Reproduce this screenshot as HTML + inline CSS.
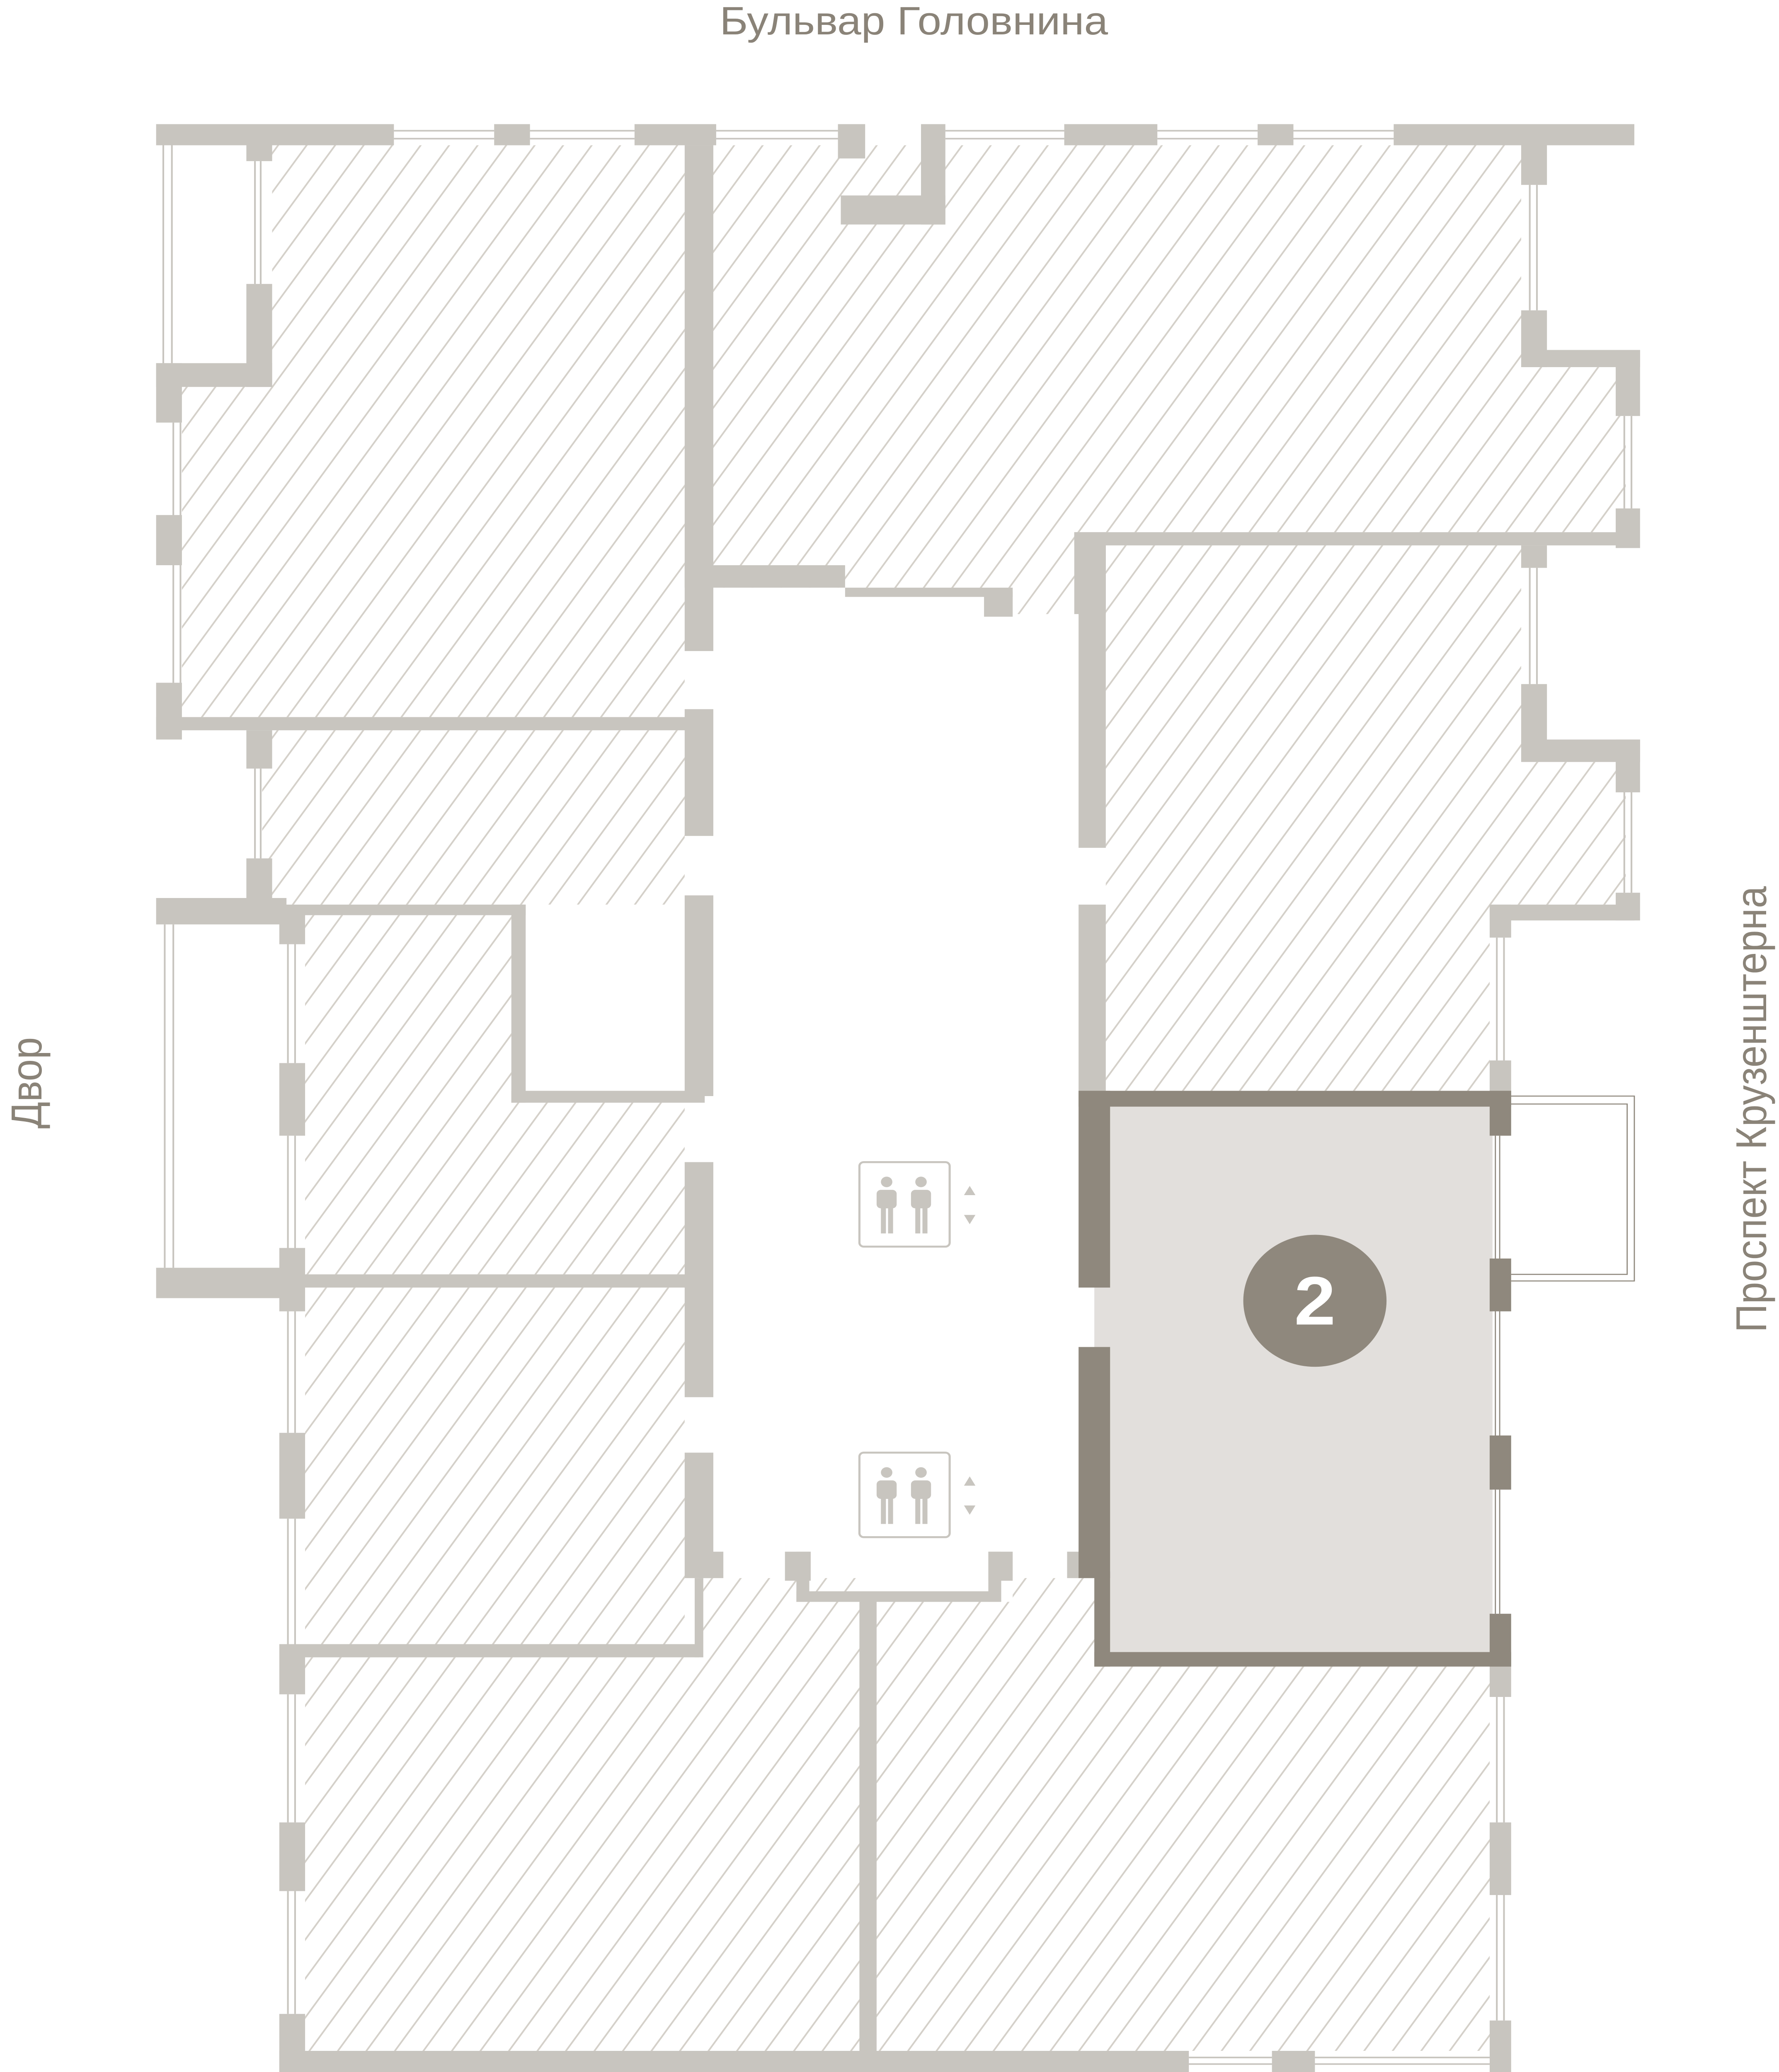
<!DOCTYPE html>
<html><head><meta charset="utf-8"><style>
html,body{margin:0;padding:0;background:#fff;overflow:hidden;}
svg{display:block;position:fixed;left:0;top:0;width:100vw;height:100vh;}
</style></head><body>
<svg xmlns="http://www.w3.org/2000/svg" viewBox="0 0 1242 1569" preserveAspectRatio="none">
<defs>
<pattern id="h" patternUnits="userSpaceOnUse" width="16.5" height="16.5" patternTransform="rotate(34)">
<line x1="8" y1="-5" x2="8" y2="25" stroke="#d4d0c9" stroke-width="1.2"/>
</pattern>
</defs>
<rect width="1242" height="1569" fill="#fff"/>
<g fill="url(#h)">
<polygon points="190,110 478,110 478,543 127,543 127,290 190,290"/>
<polygon points="183,553 478,553 478,685 183,685"/>
<polygon points="213,693 357,693 357,835 478,835 478,965 213,965"/>
<polygon points="213,975 478,975 478,1245 213,1245"/>
<polygon points="213,1255 488,1255 488,1195 600,1195 600,1553 213,1553"/>
<polygon points="612,1213 707,1213 707,1195 765,1195 765,1262 1040,1262 1040,1553 612,1553"/>
<polygon points="498,110 1062,110 1062,278 1135,278 1135,403 750,403 750,465 707,465 707,445 498,445"/>
<polygon points="772,413 1062,413 1062,577 1135,577 1135,685 1040,685 1040,826 772,826"/>
</g>
<rect x="764" y="836" width="278" height="418" fill="#e2dfdc"/>
<g fill="#c8c5bf">
<rect x="109" y="94" width="166" height="16"/>
<rect x="345" y="94" width="25" height="16"/>
<rect x="443" y="94" width="57" height="16"/>
<rect x="585" y="94" width="19" height="26"/>
<rect x="643" y="94" width="17" height="76"/>
<rect x="587" y="148" width="73" height="22"/>
<rect x="743" y="94" width="65" height="16"/>
<rect x="878" y="94" width="25" height="16"/>
<rect x="973" y="94" width="168" height="16"/>
<rect x="172" y="108" width="18" height="14"/>
<rect x="172" y="215" width="18" height="78"/>
<rect x="109" y="275" width="81" height="18"/>
<rect x="109" y="275" width="18" height="45"/>
<rect x="109" y="390" width="18" height="38"/>
<rect x="109" y="517" width="18" height="43"/>
<rect x="109" y="543" width="376" height="10"/>
<rect x="172" y="553" width="18" height="29"/>
<rect x="172" y="650" width="18" height="40"/>
<rect x="109" y="680" width="91" height="20"/>
<rect x="195" y="690" width="18" height="25"/>
<rect x="190" y="685" width="177" height="8"/>
<rect x="357" y="685" width="10" height="150"/>
<rect x="357" y="826" width="135" height="9"/>
<rect x="195" y="805" width="18" height="55"/>
<rect x="195" y="945" width="18" height="48"/>
<rect x="109" y="960" width="91" height="23"/>
<rect x="200" y="965" width="285" height="10"/>
<rect x="195" y="1085" width="18" height="65"/>
<rect x="195" y="1245" width="18" height="38"/>
<rect x="200" y="1245" width="288" height="10"/>
<rect x="195" y="1380" width="18" height="52"/>
<rect x="195" y="1525" width="18" height="44"/>
<rect x="195" y="1553" width="635" height="16"/>
<rect x="888" y="1553" width="30" height="16"/>
<rect x="478" y="110" width="20" height="383"/>
<rect x="478" y="428" width="112" height="17"/>
<rect x="590" y="445" width="117" height="7"/>
<rect x="687" y="448" width="20" height="19"/>
<rect x="478" y="537" width="20" height="96"/>
<rect x="478" y="678" width="20" height="152"/>
<rect x="478" y="880" width="20" height="178"/>
<rect x="478" y="1100" width="20" height="95"/>
<rect x="488" y="1175" width="17" height="20"/>
<rect x="485" y="1195" width="6" height="60"/>
<rect x="548" y="1175" width="18" height="22"/>
<rect x="556" y="1175" width="9" height="38"/>
<rect x="556" y="1205" width="141" height="8"/>
<rect x="690" y="1175" width="17" height="22"/>
<rect x="690" y="1175" width="9" height="38"/>
<rect x="745" y="1175" width="20" height="20"/>
<rect x="600" y="1210" width="12" height="345"/>
<rect x="750" y="403" width="391" height="10"/>
<rect x="750" y="403" width="22" height="62"/>
<rect x="753" y="413" width="19" height="229"/>
<rect x="753" y="685" width="19" height="141"/>
<rect x="1062" y="108" width="18" height="32"/>
<rect x="1062" y="235" width="18" height="43"/>
<rect x="1062" y="265" width="83" height="13"/>
<rect x="1128" y="265" width="17" height="50"/>
<rect x="1128" y="385" width="17" height="30"/>
<rect x="1062" y="413" width="18" height="17"/>
<rect x="1062" y="518" width="18" height="57"/>
<rect x="1062" y="560" width="83" height="17"/>
<rect x="1128" y="560" width="17" height="40"/>
<rect x="1128" y="676" width="17" height="21"/>
<rect x="1040" y="685" width="101" height="12"/>
<rect x="1040" y="685" width="15" height="25"/>
<rect x="1040" y="803" width="15" height="23"/>
<rect x="1040" y="1262" width="15" height="23"/>
<rect x="1040" y="1380" width="15" height="55"/>
<rect x="1040" y="1530" width="15" height="39"/>
</g>
<g stroke="#c8c5bf" stroke-width="1.2" fill="none">
<path d="M275 99H345M275 105H345M370 99H443M370 105H443M500 99H585M500 105H585M660 99H743M660 105H743M808 99H878M808 105H878M903 99H973M903 105H973"/>
<path d="M114 110V275M120 110V275M178 122V215M182 122V215M121 320V517M126 320V517M178 582V650M182 582V650M115 700V960M121 700V960"/>
<path d="M201 715V805M206 715V805M201 860V945M206 860V945M201 993V1085M206 993V1085M201 1150V1245M206 1150V1245M201 1283V1380M206 1283V1380M201 1432V1525M206 1432V1525"/>
<path d="M830 1558H888M830 1563H888M918 1558H1040M918 1563H1040"/>
<path d="M1068 140V235M1073 140V235M1134 315V385M1139 315V385M1068 430V518M1073 430V518M1134 600V676M1139 600V676M1045 710V803M1050 710V803M1045 1285V1380M1050 1285V1380M1045 1435V1530M1050 1435V1530"/>
</g>
<g fill="#8f887d">
<rect x="753" y="826" width="302" height="12"/>
<rect x="753" y="826" width="22" height="149"/>
<rect x="753" y="1020" width="22" height="175"/>
<rect x="764" y="1190" width="11" height="72"/>
<rect x="764" y="1251" width="291" height="11"/>
<rect x="1040" y="826" width="15" height="34"/>
<rect x="1040" y="953" width="15" height="40"/>
<rect x="1040" y="1087" width="15" height="41"/>
<rect x="1040" y="1222" width="15" height="40"/>
</g>
<g stroke="#8f887d" stroke-width="0.8" fill="none">
<path d="M1044 860V953M1047 860V953M1044 993V1087M1047 993V1087M1044 1128V1222M1047 1128V1222"/>
<polyline points="1055,830 1141,830 1141,970 1055,970"/>
<polyline points="1055,836 1136,836 1136,965 1055,965"/>
</g>
<circle cx="918" cy="985" r="50" fill="#8f887d"/>
<text x="918" y="1003" text-anchor="middle" font-family="Liberation Sans, sans-serif" font-weight="bold" font-size="52" fill="#fff">2</text>
<g stroke="#c8c5bf" stroke-width="1.5" fill="none">
<rect x="600" y="880" width="63" height="64" rx="3"/>
<rect x="600" y="1100" width="63" height="64" rx="3"/>
</g>
<g fill="#c8c5bf">
<g id="p1">
<circle cx="619" cy="895" r="4"/>
<rect x="612" y="901" width="14" height="14" rx="3"/>
<rect x="615" y="912" width="3.5" height="22"/><rect x="620" y="912" width="3.5" height="22"/>
<circle cx="643" cy="895" r="4"/>
<rect x="636" y="901" width="14" height="14" rx="3"/>
<rect x="639" y="912" width="3.5" height="22"/><rect x="644" y="912" width="3.5" height="22"/>
<polygon points="673,905 681,905 677,898"/>
<polygon points="673,920 681,920 677,927"/>
</g>
<use href="#p1" transform="translate(0,220)"/>
</g>
<g font-family="Liberation Sans, 'DejaVu Sans', sans-serif" fill="#8a8378" font-size="30">
<text x="638" y="26" text-anchor="middle">Бульвар Головнина</text>
<text transform="translate(29,820) rotate(-90)" text-anchor="middle">Двор</text>
<text transform="translate(1233,840) rotate(-90)" text-anchor="middle">Проспект Крузенштерна</text>
</g>
</svg>
</body></html>
